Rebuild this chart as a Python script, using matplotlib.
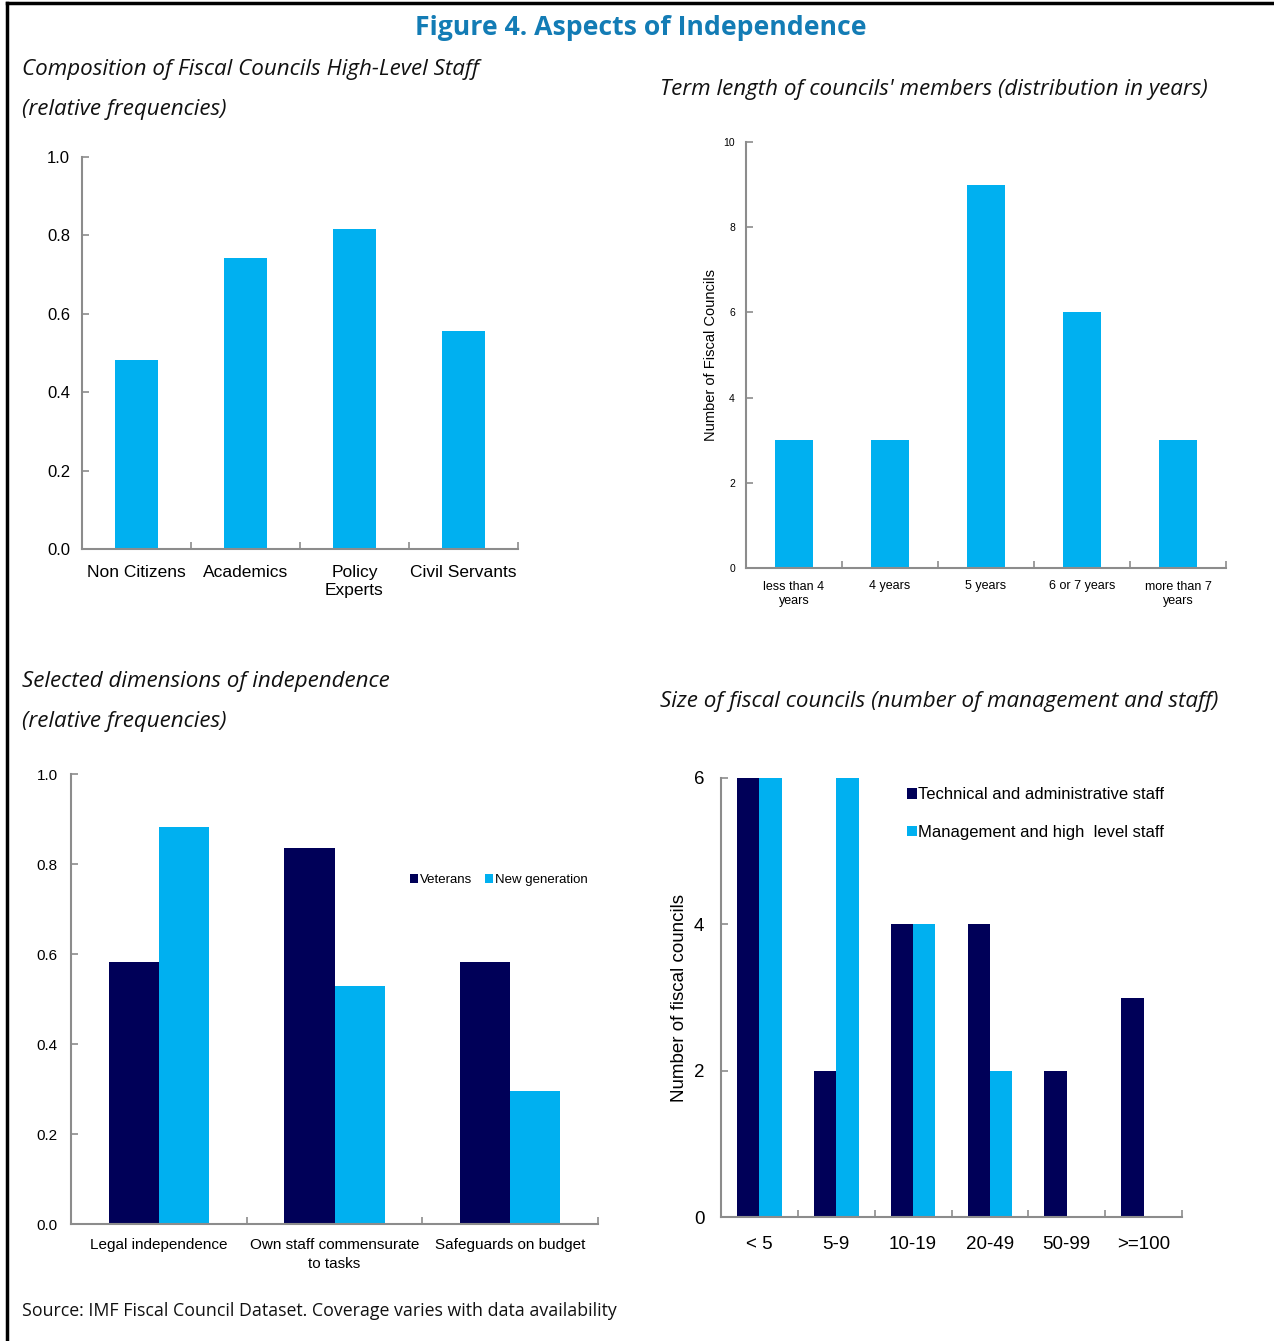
import matplotlib
matplotlib.use("Agg")
import matplotlib.pyplot as plt
import numpy as np
from matplotlib.lines import Line2D

# ---------------- data ----------------
comp_cats = ["Non Citizens", "Academics", "Policy\nExperts", "Civil Servants"]
comp_vals = [0.482, 0.742, 0.816, 0.556]

term_cats = ["less than 4\nyears", "4 years", "5 years", "6 or 7 years", "more than 7\nyears"]
term_vals = [3, 3, 9, 6, 3]

dim_cats = ["Legal independence", "Own staff commensurate\nto tasks", "Safeguards on budget"]
dim_veterans = [0.582, 0.836, 0.582]
dim_newgen = [0.882, 0.529, 0.296]

size_cats = ["< 5", "5-9", "10-19", "20-49", "50-99", ">=100"]
size_tech = [6, 2, 4, 4, 2, 3]
size_mgmt = [6, 6, 4, 2, 0, 0]

LIGHT = "#00B0F0"
NAVY = "#000058"
GREY = "#8C8C8C"
TITLE_C = "#137CB5"
SANS = ["Liberation Sans", "DejaVu Sans"]
HEAD = ["Open Sans", "DejaVu Sans"]

plt.rcParams["font.family"] = SANS

fig = plt.figure(figsize=(12.74, 13.41), dpi=100)
W, H = 1274, 1341


def ax_px(left, top, right, bottom):
    return fig.add_axes([left / W, 1 - bottom / H, (right - left) / W, (bottom - top) / H])


def style(ax, nc, ysize, xsize):
    for s in ["top", "right"]:
        ax.spines[s].set_visible(False)
    for s in ["left", "bottom"]:
        ax.spines[s].set_color(GREY)
        ax.spines[s].set_linewidth(1.5)
    ax.set_xlim(-0.5, nc - 0.5)
    ax.set_xticks(np.arange(nc + 1) - 0.5, minor=False)
    ax.set_xticklabels([])
    ax.tick_params(axis="x", which="major", direction="in", length=5, color=GREY, width=1.2)
    ax.set_xticks(np.arange(nc), minor=True)
    ax.tick_params(axis="x", which="minor", length=0, labelsize=xsize, pad=8)
    ax.tick_params(axis="y", direction="in", length=5, color=GREY, width=1.2, labelsize=ysize, pad=10)


# ---- chart 1 ----
ax1 = ax_px(82, 157, 518, 549)
x = np.arange(len(comp_cats))
ax1.bar(x, comp_vals, width=0.4, color=LIGHT)
style(ax1, len(comp_cats), 12, 12.5)
ax1.set_xticklabels(comp_cats, minor=True, linespacing=1.25)
ax1.set_ylim(0, 1.0)
ax1.set_yticks(np.arange(0, 1.01, 0.2))
ax1.set_yticklabels([f"{v:.1f}" for v in np.arange(0, 1.01, 0.2)])
ax1.tick_params(axis="x", which="minor", pad=11.5)
ax1.tick_params(axis="y", pad=8.5)

# ---- chart 2 ----
ax2 = ax_px(746, 142, 1226, 568)
x = np.arange(len(term_cats))
ax2.bar(x, term_vals, width=0.4, color=LIGHT)
style(ax2, len(term_cats), 7.5, 9)
ax2.set_xticklabels(term_cats, minor=True, linespacing=1.3)
ax2.tick_params(axis="x", which="minor", pad=9)
ax2.set_ylim(0, 10)
ax2.set_yticks(np.arange(0, 11, 2))
ax2.tick_params(axis="y", labelsize=7.5, pad=8)
ax2.set_ylabel("Number of Fiscal Councils", fontsize=10.5, labelpad=4)

# ---- chart 3 ----
ax3 = ax_px(71, 774, 598, 1224)
x = np.arange(len(dim_cats))
bw = 0.285
ax3.bar(x - bw / 2, dim_veterans, width=bw, color=NAVY, label="Veterans")
ax3.bar(x + bw / 2, dim_newgen, width=bw, color=LIGHT, label="New generation")
style(ax3, len(dim_cats), 11, 11)
ax3.set_xticklabels(dim_cats, minor=True, linespacing=1.45)
ax3.tick_params(axis="x", which="minor", pad=10)
ax3.set_ylim(0, 1.0)
ax3.set_yticks(np.arange(0, 1.01, 0.2))
ax3.set_yticklabels([f"{v:.1f}" for v in np.arange(0, 1.01, 0.2)])
ax3.tick_params(axis="y", pad=9.5)
ax3.legend(loc="upper left", bbox_to_anchor=(0.63, 0.792), ncol=2, frameon=False,
           fontsize=9.5, handlelength=0.6, handleheight=0.6, handletextpad=0.15,
           columnspacing=1.0, borderpad=0)

# ---- chart 4 ----
ax4 = ax_px(721, 778, 1182, 1217)
x = np.arange(len(size_cats))
bw = 0.29
ax4.bar(x - bw / 2, size_tech, width=bw, color=NAVY, label="Technical and administrative staff")
ax4.bar(x + bw / 2, size_mgmt, width=bw, color=LIGHT, label="Management and high  level staff")
style(ax4, len(size_cats), 13.5, 13.5)
ax4.set_xticklabels(size_cats, minor=True)
ax4.tick_params(axis="x", which="minor", pad=14)
ax4.set_ylim(0, 6)
ax4.set_yticks([0, 2, 4, 6])
ax4.tick_params(axis="y", pad=12)
ax4.set_ylabel("Number of fiscal councils", fontsize=13.5, labelpad=4)
ax4.legend(loc="upper left", bbox_to_anchor=(0.385, 0.998), ncol=1, frameon=False,
           fontsize=12, handlelength=0.6, handleheight=0.6, handletextpad=0.1,
           labelspacing=1.35, borderpad=0)

# ---- texts ----
fig.text(641 / W, 1 - 28 / H, "Figure 4. Aspects of Independence", ha="center", va="center",
         fontsize=19.2, fontweight="bold", color=TITLE_C, family=HEAD)
sub = dict(fontsize=16.1, style="italic", family=HEAD, color="#111111", va="center", ha="left")
fig.text(22 / W, 1 - 70 / H, "Composition of Fiscal Councils High-Level Staff", **sub)
fig.text(22 / W, 1 - 110 / H, "(relative frequencies)", **sub)
fig.text(660 / W, 1 - 90 / H, "Term length of councils' members (distribution in years)", **sub)
fig.text(22 / W, 1 - 681 / H, "Selected dimensions of independence", **sub)
fig.text(22 / W, 1 - 721 / H, "(relative frequencies)", **sub)
fig.text(660 / W, 1 - 701 / H, "Size of fiscal councils (number of management and staff)", **sub)
fig.text(22 / W, 1 - 1311 / H, "Source: IMF Fiscal Council Dataset. Coverage varies with data availability",
         fontsize=12.8, family=HEAD, color="#111111", va="center", ha="left")

# border
fig.add_artist(Line2D([7 / W, 7 / W], [0, 1 - 3 / H], color="black", lw=2.5, transform=fig.transFigure))
fig.add_artist(Line2D([7 / W, 1], [1 - 3 / H, 1 - 3 / H], color="black", lw=2.5, transform=fig.transFigure))

fig.savefig("out.png", dpi=100)
